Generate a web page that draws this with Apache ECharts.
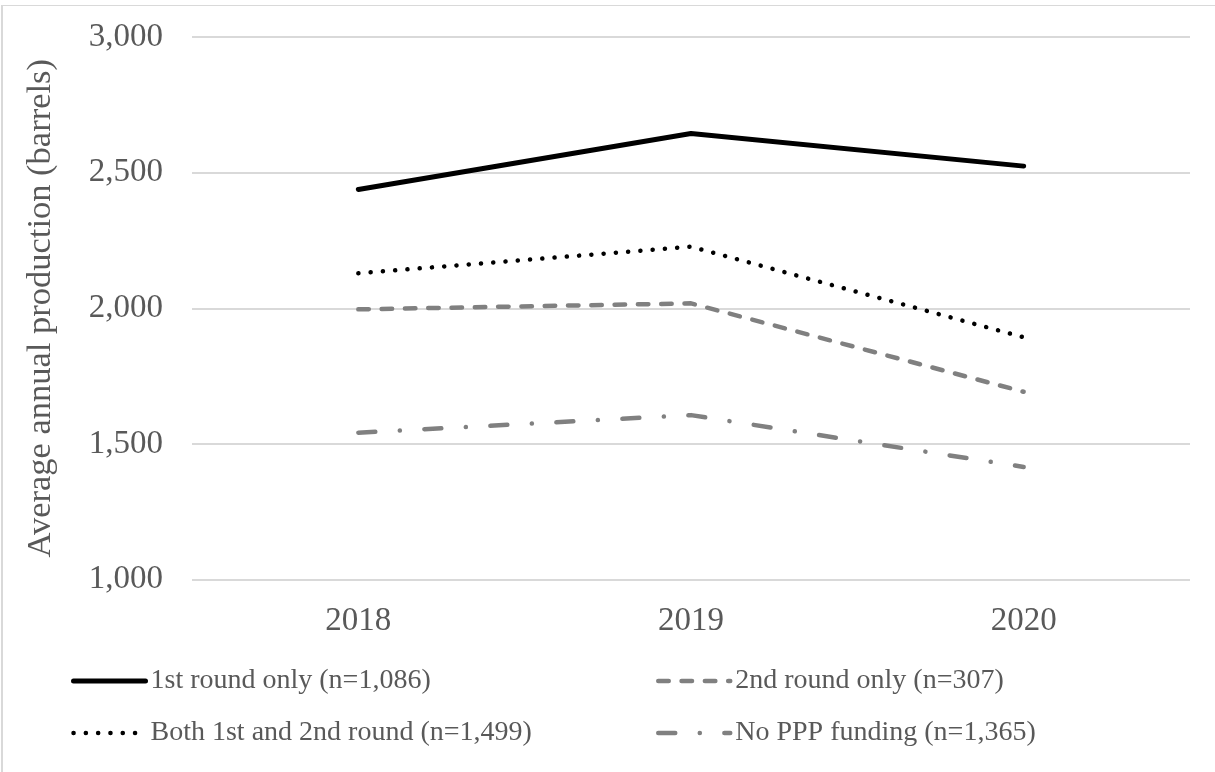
<!DOCTYPE html>
<html>
<head>
<meta charset="utf-8">
<script src="https://cdn.jsdelivr.net/npm/echarts@6/dist/echarts.min.js"></script>
<style>
  html, body { margin: 0; padding: 0; background: #fff; }
  #frame { position: absolute; left: 1px; top: 5px; width: 1214px; height: 767px;
           border-left: 2px solid #d9d9d9; border-top: 1px solid #d9d9d9; box-sizing: border-box; }
  #chart { position: absolute; left: 0; top: 0; width: 1215px; height: 772px; }
</style>
</head>
<body>
<div id="frame"></div>
<div id="chart"></div>
<script>
// Average annual production by PPP funding group
const years = ['2018', '2019', '2020'];
const yTicks = [1000, 1500, 2000, 2500, 3000];

const seriesNames = [
  '1st round only (n=1,086)',
  'Both 1st and 2nd round (n=1,499)',
  '2nd round only (n=307)',
  'No PPP funding (n=1,365)'
];
const firstRoundOnly = [2438, 2644, 2524];
const bothRounds = [2129, 2227, 1893];
const secondRoundOnly = [1996, 2018, 1692];
const noPPP = [1541, 1606, 1415];

const FONT = 'Liberation Serif';
const TEXT = '#595959';

const chart = echarts.init(document.getElementById('chart'), null, { renderer: 'canvas' });

const legendText = { fontFamily: FONT, fontSize: 28, color: TEXT, lineHeight: 30 };
const legendBase = {
  orient: 'vertical',
  top: 666,
  padding: 0,
  itemWidth: 72,
  itemHeight: 14,
  itemGap: 22,
  textStyle: legendText,
  itemStyle: { opacity: 0 },
  lineStyle: { width: 'inherit' },
  selectedMode: false
};

chart.setOption({
  animation: false,
  grid: { left: 192, right: 25, top: 37, bottom: 192.5, containLabel: false },
  legend: [
    Object.assign({}, legendBase, { left: 71, data: [seriesNames[0], seriesNames[1]] }),
    Object.assign({}, legendBase, { left: 656, data: [seriesNames[2], seriesNames[3]] })
  ],
  xAxis: {
    type: 'category',
    data: years,
    boundaryGap: true,
    axisLine: { show: false },
    axisTick: { show: false },
    axisLabel: { fontFamily: FONT, fontSize: 33, color: TEXT, margin: 25 }
  },
  yAxis: {
    type: 'value',
    min: yTicks[0],
    max: yTicks[yTicks.length - 1],
    interval: yTicks[1] - yTicks[0],
    name: 'Average annual production (barrels)',
    nameLocation: 'middle',
    nameGap: 134,
    nameTextStyle: { fontFamily: FONT, fontSize: 34.5, color: TEXT },
    axisLine: { show: false },
    axisTick: { show: false },
    axisLabel: {
      fontFamily: FONT, fontSize: 33, color: TEXT, margin: 29,
      formatter: v => v.toLocaleString('en-US')
    },
    splitLine: { lineStyle: { color: '#d9d9d9', width: 2 } }
  },
  series: [
    {
      name: seriesNames[0], type: 'line', data: firstRoundOnly, symbol: 'none',
      lineStyle: { color: '#000000', width: 5, cap: 'round', join: 'round' },
      itemStyle: { color: '#000000' }
    },
    {
      name: seriesNames[1], type: 'line', data: bothRounds, symbol: 'none',
      lineStyle: { color: '#000000', width: 4.5, type: [0.1, 12.2], cap: 'round', join: 'round' },
      itemStyle: { color: '#000000' }
    },
    {
      name: seriesNames[2], type: 'line', data: secondRoundOnly, symbol: 'none',
      lineStyle: { color: '#808080', width: 4.5, type: [10.5, 12.8], cap: 'round', join: 'round' },
      itemStyle: { color: '#808080' }
    },
    {
      name: seriesNames[3], type: 'line', data: noPPP, symbol: 'none',
      lineStyle: { color: '#808080', width: 4.5, type: [17, 24.5, 0.1, 24.5], cap: 'round', join: 'round' },
      itemStyle: { color: '#808080' }
    }
  ]
});
</script>
</body>
</html>
